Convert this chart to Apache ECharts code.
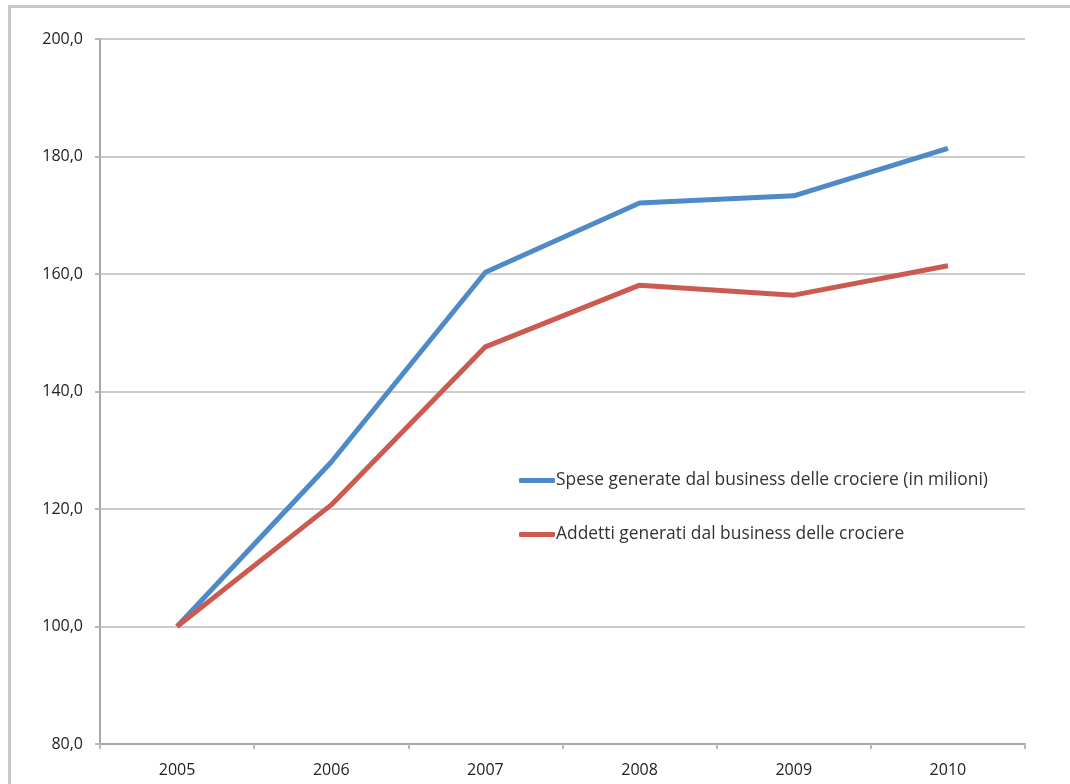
<!DOCTYPE html>
<html><head><meta charset="utf-8">
<script src="https://cdn.jsdelivr.net/npm/echarts@6/dist/echarts.min.js"></script>
<style>html,body{margin:0;padding:0;background:#fff}#frame{position:absolute;left:8px;top:5px;width:1070px;height:800px;border-left:3px solid #c8c8c8;border-top:3px solid #c8c8c8;box-sizing:border-box}#c{position:absolute;left:0;top:0;width:1070px;height:784px}</style>
</head><body><div id="frame"></div><div id="c"></div>
<script>
var years = ['2005','2006','2007','2008','2009','2010'];
var spese = [100, 128.0, 160.3, 172.1, 173.3, 181.4];
var addetti = [100, 120.7, 147.6, 158.1, 156.4, 161.4];
var seriesNames = ['Spese generate dal business delle crociere (in milioni)', 'Addetti generati dal business delle crociere'];
var chart = echarts.init(document.getElementById('c'));
var font = 'Open Sans';
chart.setOption({
  animation: false,
  grid: {left: 100, right: 45, top: 39, bottom: 40},
  legend: {
    orient: 'vertical', left: 514, top: 467, itemGap: 37,
    itemWidth: 36, itemHeight: 5, icon: 'roundRect',
    textStyle: {fontFamily: font, fontSize: 17.4, color: '#333', padding: [0,0,0,-4]},
    data: seriesNames
  },
  xAxis: {
    type: 'category', data: years, boundaryGap: true,
    axisLine: {lineStyle: {color: '#a8a8a8', width: 2}},
    axisTick: {show: true, length: 5, lineStyle: {color: '#b8b8b8', width: 2}},
    axisLabel: {fontFamily: font, fontSize: 16, color: '#222', margin: 18},
    splitLine: {show: false}
  },
  yAxis: {
    type: 'value', min: 80, max: 200, interval: 20,
    axisLine: {show: true, lineStyle: {color: '#a8a8a8', width: 2}},
    axisTick: {show: true, length: 5, lineStyle: {color: '#b8b8b8', width: 2}},
    axisLabel: {fontFamily: font, fontSize: 16, color: '#222', margin: 17,
      formatter: function(v){ return v.toFixed(1).replace('.', ','); }},
    splitLine: {lineStyle: {color: '#cccccc', width: 2}}
  },
  series: [
    {name: seriesNames[0], type: 'line', data: spese, symbol: 'none', lineStyle: {color: '#4E8AC8', width: 5}, itemStyle: {color: '#4E8AC8'}},
    {name: seriesNames[1], type: 'line', data: addetti, symbol: 'none', lineStyle: {color: '#CB5A50', width: 5}, itemStyle: {color: '#CB5A50'}}
  ]
});
</script></body></html>
